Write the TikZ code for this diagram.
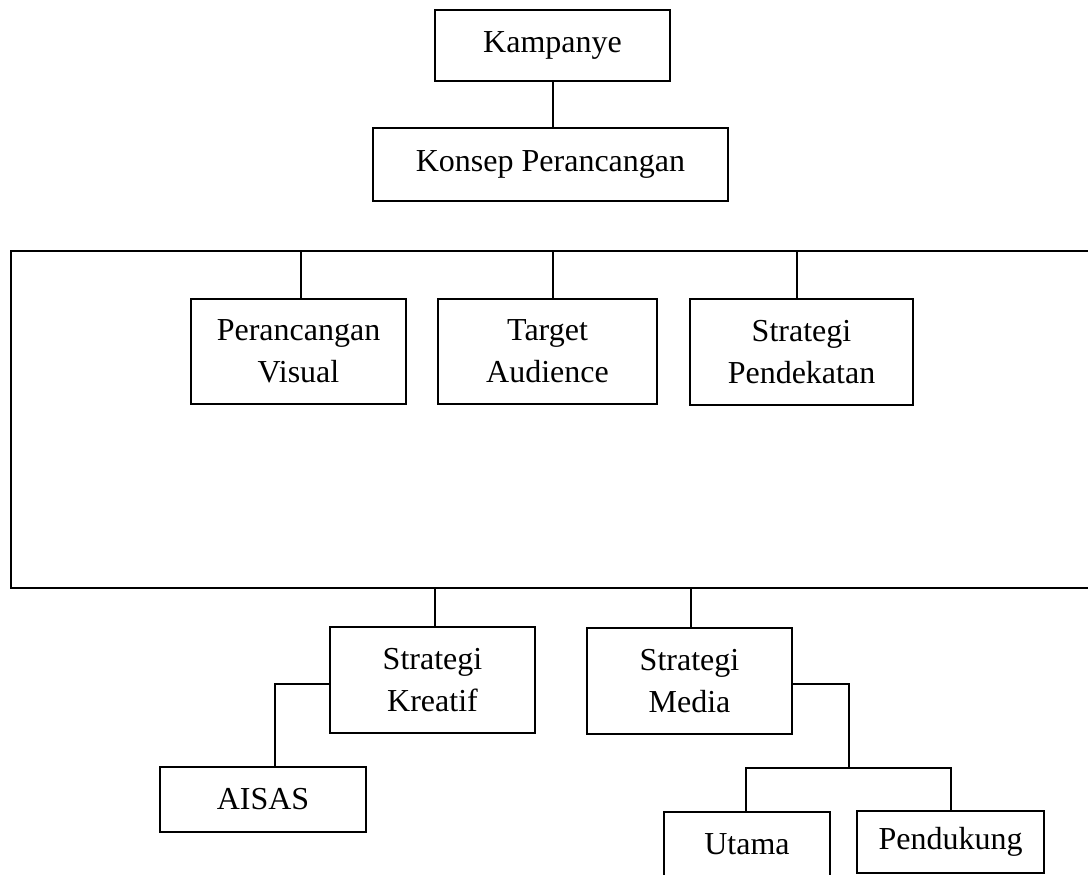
\documentclass[tikz,border=0pt]{standalone}
\usepackage{fontspec}
\setmainfont{Liberation Serif}
\begin{document}
\begin{tikzpicture}[x=1pt,y=-1pt,
  line width=2.7pt,
  box/.style={draw, rectangle, inner sep=0pt, align=center,
    font=\fontsize{32}{42}\selectfont},
  link/.style={line cap=rect}]
\useasboundingbox (0,0) rectangle (1088,875);
\clip (0,0) rectangle (1088,875);
% top boxes
\node[box, minimum width=235pt, minimum height=71pt] (kamp) at (552.5,45.5) {Kampanye};
\node[box, minimum width=355pt, minimum height=73pt] (kons) at (550.5,164.5) {Konsep Perancangan};
\draw (kamp.south -| 553,0) -- (kons.north -| 553,0);
% frame
\coordinate (ftr) at (1090,251);
\coordinate (ftl) at (11,251);
\coordinate (fbl) at (11,588);
\coordinate (fbr) at (1090,588);
\draw (ftr) -- (ftl) -- (fbl) -- (fbr);
% middle boxes
\node[box, minimum width=215pt, minimum height=105pt] (pv) at (298.5,351.5) {Perancangan\\Visual};
\node[box, minimum width=219pt, minimum height=105pt] (ta) at (547.5,351.5) {Target\\Audience};
\node[box, minimum width=223pt, minimum height=106pt] (sp) at (801.5,352) {Strategi\\Pendekatan};
\coordinate (c1) at (301,251);
\coordinate (c2) at (553,251);
\coordinate (c3) at (797,251);
\draw (c1) -- (c1 |- pv.north);
\draw (c2) -- (c2 |- ta.north);
\draw (c3) -- (c3 |- sp.north);
% lower boxes
\node[box, minimum width=205pt, minimum height=106pt] (sk) at (432.5,680) {Strategi\\Kreatif};
\node[box, minimum width=205pt, minimum height=106pt] (sm) at (689.5,681) {Strategi\\Media};
\coordinate (d1) at (435,588);
\coordinate (d2) at (691,588);
\draw (d1) -- (d1 |- sk.north);
\draw (d2) -- (d2 |- sm.north);
% AISAS
\node[box, minimum width=206pt, minimum height=65pt] (ai) at (263,799.5) {AISAS};
\coordinate (k1) at (275,684);
\draw (sk.west |- k1) -- (k1) -- (k1 |- ai.north);
% media branch
\node[box, minimum width=166pt, minimum height=70pt] (ut) at (747,847) {\raisebox{5pt}{Utama}};
\node[box, minimum width=187pt, minimum height=62pt] (pd) at (950.5,842) {Pendukung};
\coordinate (m1) at (849,684);
\coordinate (m2) at (849,768);
\coordinate (m3) at (746,768);
\coordinate (m4) at (951,768);
\draw (sm.east |- m1) -- (m1) -- (m2);
\draw (m3 |- ut.north) -- (m3) -- (m4) -- (m4 |- pd.north);
\end{tikzpicture}
\end{document}
